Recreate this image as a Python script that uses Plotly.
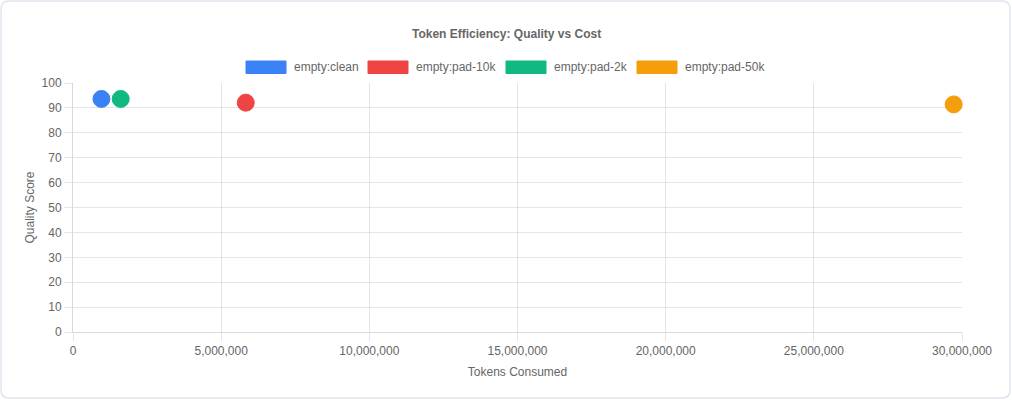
import plotly.graph_objects as go

# ---- data ----
labels = ["empty:clean", "empty:pad-10k", "empty:pad-2k", "empty:pad-50k"]
tokens = [960000, 5830000, 1610000, 29720000]
quality = [93.6, 92.1, 93.6, 91.4]
colors = ["#3b82f6", "#ef4444", "#10b981", "#f59e0b"]
x_ticks = [0, 5000000, 10000000, 15000000, 20000000, 25000000, 30000000]
y_ticks = [0, 10, 20, 30, 40, 50, 60, 70, 80, 90, 100]

W, H = 1012, 401
L, R, T, B = 73, 50, 83, 69
PW, PH = W - L - R, H - T - B


def px_x(p):
    return (p - L) / PW


def px_y(p):
    return (H - B - p) / PH


FONT = "Liberation Sans, Arial, Helvetica, sans-serif"
GRID = "rgba(0,0,0,0.1)"

fig = go.Figure()
for lab, xv, yv, c in zip(labels, tokens, quality, colors):
    fig.add_trace(go.Scatter(
        x=[xv], y=[yv], mode="markers", name=lab,
        marker=dict(size=17, color=c, line=dict(width=1, color=c)),
        cliponaxis=False, showlegend=False,
    ))

shapes = []
annotations = []

# card
x0, x1 = px_x(1), px_x(1010)
y0, y1 = px_y(398), px_y(1)
rx, ry = 8 / PW, 8 / PH
path = (f"M {x0+rx},{y1} L {x1-rx},{y1} Q {x1},{y1} {x1},{y1-ry} "
        f"L {x1},{y0+ry} Q {x1},{y0} {x1-rx},{y0} L {x0+rx},{y0} "
        f"Q {x0},{y0} {x0},{y0+ry} L {x0},{y1-ry} Q {x0},{y1} {x0+rx},{y1} Z")
shapes.append(dict(type="path", xref="paper", yref="paper", path=path,
                   line=dict(color="#dfe5ee", width=1.5), fillcolor="white",
                   layer="below"))

# manual legend (chart.js style boxes)
box_left = [246, 368, 506, 637]
for lab, c, bx in zip(labels, colors, box_left):
    shapes.append(dict(type="rect", xref="paper", yref="paper",
                       x0=px_x(bx), x1=px_x(bx + 40), y0=px_y(73.5), y1=px_y(61),
                       line=dict(color=c, width=1), fillcolor=c))
    annotations.append(dict(xref="paper", yref="paper", x=px_x(bx + 46), y=px_y(67),
                            text=lab, showarrow=False, xanchor="left", yanchor="middle",
                            font=dict(family=FONT, size=12, color="#666")))

annotations.append(dict(xref="paper", yref="paper", x=px_x(506), y=px_y(34),
                        text="<b>Token Efficiency: Quality vs Cost</b>", showarrow=False,
                        xanchor="center", yanchor="middle",
                        font=dict(family=FONT, size=12, color="#666")))

fig.update_layout(
    width=W, height=H,
    margin=dict(l=L, r=R, t=T, b=B, pad=0),
    paper_bgcolor="white", plot_bgcolor="rgba(0,0,0,0)",
    font=dict(family=FONT, size=12, color="#666"),
    shapes=shapes, annotations=annotations,
    showlegend=False,
)
fig.update_xaxes(
    range=[0, 30000000], tickvals=x_ticks, tickformat=",",
    showgrid=True, gridcolor=GRID, gridwidth=1,
    zeroline=False, showline=True, linecolor="rgba(0,0,0,0.15)", linewidth=1,
    ticks="outside", ticklen=8, tickcolor=GRID,
    tickfont=dict(family=FONT, size=12, color="#666"),
    title=dict(text="Tokens Consumed", standoff=10,
               font=dict(family=FONT, size=12, color="#666")),
)
fig.update_yaxes(
    range=[0, 100], tickvals=y_ticks,
    showgrid=True, gridcolor=GRID, gridwidth=1,
    zeroline=False, showline=True, linecolor="rgba(0,0,0,0.15)", linewidth=1,
    ticks="outside", ticklen=8, tickcolor=GRID,
    tickfont=dict(family=FONT, size=12, color="#666"),
    title=dict(text="Quality Score", standoff=4,
               font=dict(family=FONT, size=12, color="#666")),
)

fig.write_html("out.html", config={"displayModeBar": False},
               post_script="document.body.style.margin='0';document.body.style.overflow='hidden';")
